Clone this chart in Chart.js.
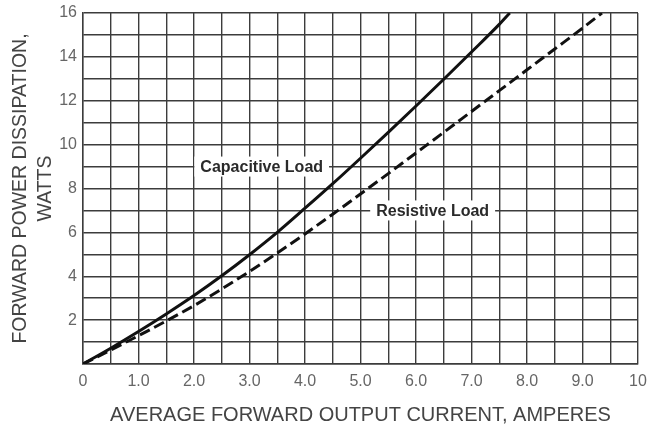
<!DOCTYPE html>
<html lang="en">
<head>
    <meta charset="UTF-8">
    <title>Forward Power Dissipation</title>
    <style>
        body {
            margin: 0;
            background-color: white;
        }
        .container {
            width: 647px;
            height: 427px;
        }
    </style>
</head>
<body>
    <div class="container">
        <canvas id="powerChart"></canvas>
    </div>

    <script src="https://cdn.jsdelivr.net/npm/chart.js"></script>
    <script>
        // Average forward output current (A) vs forward power dissipation (W)
        const capacitiveCurrent = [0, 0.5, 1.0, 1.5, 2.0, 2.5, 3.0, 3.5, 4.0, 4.5, 5.0, 5.5, 6.0, 6.5, 7.0, 7.5, 7.69];
        const capacitivePower   = [0, 0.72, 1.48, 2.28, 3.12, 4.02, 4.98, 6.0, 7.1, 8.22, 9.38, 10.56, 11.76, 12.98, 14.22, 15.48, 16];

        const resistiveCurrent = [0, 0.5, 1.0, 1.5, 2.0, 2.5, 3.0, 3.5, 4.0, 4.5, 5.0, 5.5, 6.0, 6.5, 7.0, 7.5, 8.0, 8.5, 9.0, 9.35];
        const resistivePower   = [0, 0.64, 1.29, 1.96, 2.66, 3.42, 4.22, 5.06, 5.93, 6.83, 7.75, 8.68, 9.62, 10.56, 11.51, 12.46, 13.41, 14.36, 15.31, 16];

        const xTickLabels = {0: '0', 1: '1.0', 2: '2.0', 3: '3.0', 4: '4.0', 5: '5.0', 6: '6.0', 7: '7.0', 8: '8.0', 9: '9.0', 10: '10'};
        const yTickLabels = {2: '2', 4: '4', 6: '6', 8: '8', 10: '10', 12: '12', 14: '14', 16: '16'};

        const curveLabels = [
            { text: 'Capacitive Load', x: 3.22, y: 9 },
            { text: 'Resistive Load', x: 6.3, y: 7 }
        ];

        function toPoints(xs, ys) {
            return xs.map((x, i) => ({ x: x, y: ys[i] }));
        }

        const gridColor = '#3c3c3c';
        const fontFamily = '"Liberation Sans", Arial, sans-serif';

        // writes the curve names on top of the grid with a white box behind
        const curveLabelPlugin = {
            id: 'curveLabels',
            afterDraw(chart) {
                const ctx = chart.ctx;
                const xs = chart.scales.x;
                const ys = chart.scales.y;
                ctx.save();
                ctx.font = 'bold 16px ' + fontFamily;
                ctx.textAlign = 'center';
                ctx.textBaseline = 'middle';
                curveLabels.forEach(l => {
                    const px = xs.getPixelForValue(l.x);
                    const py = ys.getPixelForValue(l.y);
                    const w = ctx.measureText(l.text).width;
                    ctx.fillStyle = 'white';
                    ctx.fillRect(px - w / 2 - 6, py - 10, w + 12, 20);
                    ctx.fillStyle = '#2a2a2a';
                    ctx.fillText(l.text, px, py + 1);
                });
                ctx.restore();
            }
        };

        const ctx = document.getElementById('powerChart').getContext('2d');
        const powerChart = new Chart(ctx, {
            type: 'line',
            data: {
                datasets: [{
                    label: 'Capacitive Load',
                    data: toPoints(capacitiveCurrent, capacitivePower),
                    borderColor: '#111',
                    borderWidth: 3,
                    pointRadius: 0,
                    tension: 0.4,
                    cubicInterpolationMode: 'monotone'
                }, {
                    label: 'Resistive Load',
                    data: toPoints(resistiveCurrent, resistivePower),
                    borderColor: '#111',
                    borderWidth: 3,
                    borderDash: [11, 5],
                    pointRadius: 0,
                    tension: 0.4,
                    cubicInterpolationMode: 'monotone'
                }]
            },
            options: {
                responsive: true,
                maintainAspectRatio: false,
                animation: false,
                layout: {
                    padding: { left: 0, right: 9, top: 13, bottom: 0 }
                },
                plugins: {
                    legend: { display: false },
                    tooltip: { enabled: false }
                },
                scales: {
                    x: {
                        type: 'linear',
                        min: 0,
                        max: 10,
                        afterFit: scale => {
                            scale.height = 63;
                            scale.paddingRight = 0;
                            scale.paddingLeft = 0;
                        },
                        ticks: {
                            stepSize: 0.5,
                            autoSkip: false,
                            maxRotation: 0,
                            padding: 8,
                            color: '#666',
                            font: { family: fontFamily, size: 16 },
                            callback: value => xTickLabels[value] || ''
                        },
                        grid: { color: gridColor, lineWidth: 1.4, drawTicks: false },
                        border: { color: gridColor, width: 1.4 },
                        title: {
                            display: true,
                            text: 'AVERAGE FORWARD OUTPUT CURRENT, AMPERES',
                            color: '#444',
                            padding: { top: 4, bottom: 0 },
                            font: { family: fontFamily, size: 20 }
                        }
                    },
                    y: {
                        min: 0,
                        max: 16,
                        afterFit: scale => {
                            scale.width = 83;
                            scale.paddingTop = 0;
                            scale.paddingBottom = 0;
                        },
                        ticks: {
                            stepSize: 1,
                            autoSkip: false,
                            padding: 6,
                            color: '#666',
                            font: { family: fontFamily, size: 16 },
                            callback: value => yTickLabels[value] || ''
                        },
                        grid: { color: gridColor, lineWidth: 1.4, drawTicks: false },
                        border: { color: gridColor, width: 1.4 },
                        title: {
                            display: true,
                            text: ['FORWARD POWER DISSIPATION,', 'WATTS'],
                            color: '#444',
                            padding: { top: 8, bottom: 0 },
                            font: { family: fontFamily, size: 19.5, lineHeight: 1.28 }
                        }
                    }
                }
            },
            plugins: [curveLabelPlugin]
        });
    </script>
</body>
</html>
